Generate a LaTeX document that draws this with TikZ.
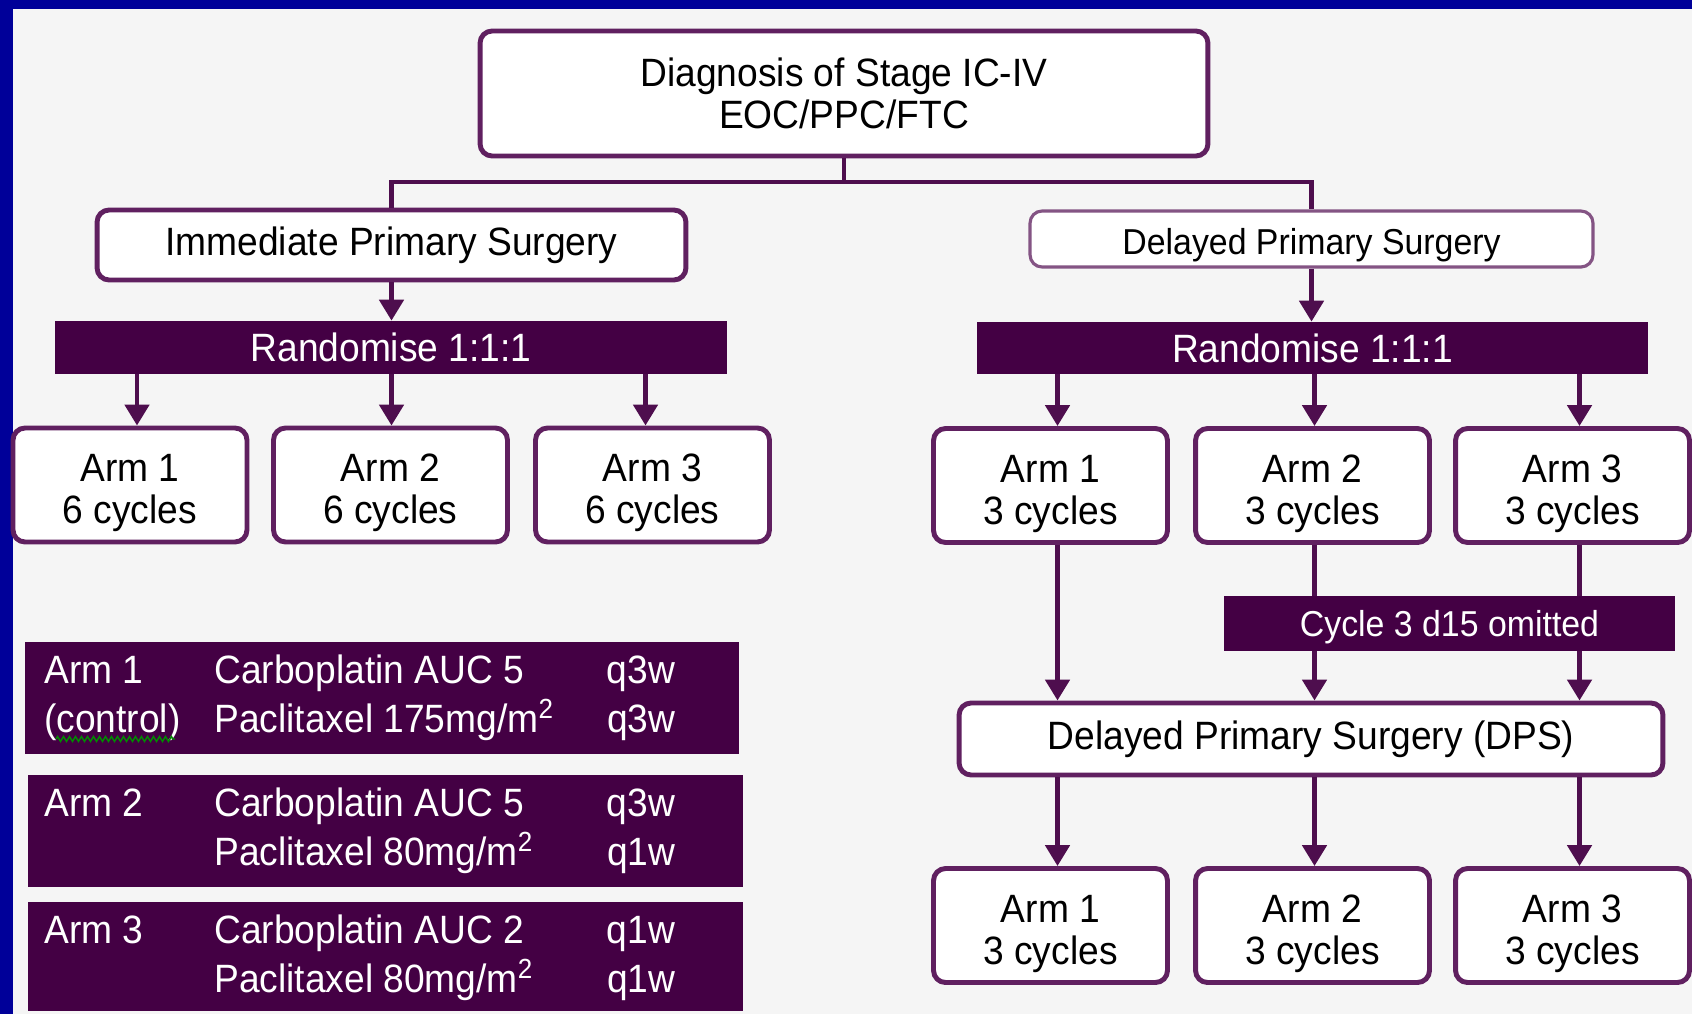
\documentclass[tikz,border=0pt]{standalone}
\usepackage{fontspec}
\setmainfont{Liberation Sans}[FakeStretch=0.94]
\usepackage{array}
\usetikzlibrary{arrows.meta,decorations.pathmorphing}

\definecolor{framebl}{RGB}{0,0,153}
\definecolor{pagegray}{RGB}{245,245,245}
\definecolor{plum}{RGB}{68,0,68}
\definecolor{plumline}{RGB}{78,14,78}
\definecolor{plumedge}{RGB}{96,32,96}
\definecolor{plumlight}{RGB}{132,84,132}

\newcommand\fsmain{\fontsize{22.5}{24}\selectfont}
\newcommand\fssmall{\fontsize{20.5}{23}\selectfont}
\newcommand\fstab{\fontsize{22.5}{28}\selectfont}
\newcommand\armgap{\rule{0pt}{0.88cm}}
\newcolumntype{R}[1]{>{\raggedleft\arraybackslash}p{#1}}

\tikzset{
  whitebox/.style={draw=plumedge, line width=2.8pt, fill=white, rounded corners=0.24cm,
    align=center, inner sep=0pt, font=\fsmain},
  armbox/.style={whitebox, minimum width=4.68cm, minimum height=2.28cm},
  darkbox/.style={fill=plum, text=white, inner sep=0pt, font=\fsmain},
  tabtext/.style={anchor=base west, text=white, inner sep=0pt, font=\fstab},
  link/.style={draw=plumline, line width=2.8pt},
  arr/.style={link, -{Triangle[length=0.42cm,width=0.48cm]}},
}

\begin{document}
\begin{tikzpicture}[x=0.02cm, y=-0.02cm]
    \useasboundingbox (0,0) rectangle (1692,1014);
    \fill[framebl] (0,0) rectangle (1692,1014);
    \fill[pagegray] (13,9) rectangle (1692,1014);

    \node[whitebox, minimum width=14.56cm, minimum height=2.5cm] (diag) at (844,93.5)
        {Diagnosis of Stage IC-IV\\EOC/PPC/FTC};
    \node[whitebox, minimum width=11.78cm, minimum height=1.4cm] (ips) at (391.5,245)
        {Immediate Primary Surgery};
    \node[whitebox, draw=plumlight, line width=1.8pt, minimum width=11.26cm, minimum height=1.12cm,
        font=\fssmall] (dps0) at (1311.5,239) {\rule{0pt}{0.78cm}Delayed Primary Surgery};

    \node[darkbox, minimum width=13.44cm, minimum height=1.06cm] (randL) at (391,347.5) {Randomise 1:1:1};
    \node[darkbox, minimum width=13.42cm, minimum height=1.04cm] (randR) at (1312.5,348) {Randomise 1:1:1};

    \foreach \i/\x in {1/130,2/390.5,3/652.5}
        \node[armbox] (armL\i) at (\x,485) {\armgap Arm \i\\6 cycles};
    \foreach \i/\x in {1/1050.5,2/1312.5,3/1572.5} {
        \node[armbox] (armR\i) at (\x,485.5) {\armgap Arm \i\\3 cycles};
        \node[armbox] (armB\i) at (\x,925.5) {\armgap Arm \i\\3 cycles};
    }

    \node[whitebox, minimum width=14.08cm, minimum height=1.44cm] (dps) at (1311,739)
        {Delayed Primary Surgery (DPS)};

    \coordinate (split) at (844,182);
    \draw[link] (diag.south) -- (split);
    \draw[link] (split) -| (ips.north);
    \draw[link] (split) -| (dps0.north);
    \draw[arr] (ips.south) -- (ips.south |- randL.north);
    \draw[arr] (dps0.south) -- (dps0.south |- randR.north);
    \foreach \i/\dx in {1/7,2/1,3/-7}
        \draw[arr] ([xshift=\dx*0.02cm]armL\i.north |- randL.south) -- ([xshift=\dx*0.02cm]armL\i.north);
    \foreach \i/\dx in {1/7,2/2,3/7} {
        \draw[arr] ([xshift=\dx*0.02cm]armR\i.north |- randR.south) -- ([xshift=\dx*0.02cm]armR\i.north);
        \draw[arr] ([xshift=\dx*0.02cm]armR\i.south) -- ([xshift=\dx*0.02cm]armR\i.south |- dps.north);
        \draw[arr] ([xshift=\dx*0.02cm]armB\i.north |- dps.south) -- ([xshift=\dx*0.02cm]armB\i.north);
    }

    \node[darkbox, font=\fssmall, minimum width=9.02cm, minimum height=1.1cm] (cyc) at (1449.5,623.5)
        {\rule{0pt}{0.66cm}Cycle 3 d15 omitted};

    \node[darkbox, minimum width=14.28cm, minimum height=2.24cm] (tb1) at (382,698) {};
    \node[darkbox, minimum width=14.3cm, minimum height=2.24cm] (tb2) at (385.5,831) {};
    \node[darkbox, minimum width=14.3cm, minimum height=2.18cm] (tb3) at (385.5,956.5) {};

    \node[tabtext] (tb1txt) at (44,683) {\begin{tabular}[t]{@{}p{3.4cm}@{}p{6.92cm}@{}R{2.3cm}@{}}
        Arm 1 & Carboplatin AUC 5 & q3w\\
        (control) & Paclitaxel 175mg/m\textsuperscript{2} & q3w
    \end{tabular}};
    \draw[draw=green!55!black, line width=0.8pt, decorate,
        decoration={zigzag, amplitude=0.05cm, segment length=0.12cm}] (56,739) -- (175,739);
    \node[tabtext] (tb2txt) at (44,816) {\begin{tabular}[t]{@{}p{3.4cm}@{}p{6.92cm}@{}R{2.3cm}@{}}
        Arm 2 & Carboplatin AUC 5 & q3w\\
         & Paclitaxel 80mg/m\textsuperscript{2} & q1w
    \end{tabular}};
    \node[tabtext] (tb3txt) at (44,943) {\begin{tabular}[t]{@{}p{3.4cm}@{}p{6.92cm}@{}R{2.3cm}@{}}
        Arm 3 & Carboplatin AUC 2 & q1w\\
         & Paclitaxel 80mg/m\textsuperscript{2} & q1w
    \end{tabular}};
\end{tikzpicture}
\end{document}
